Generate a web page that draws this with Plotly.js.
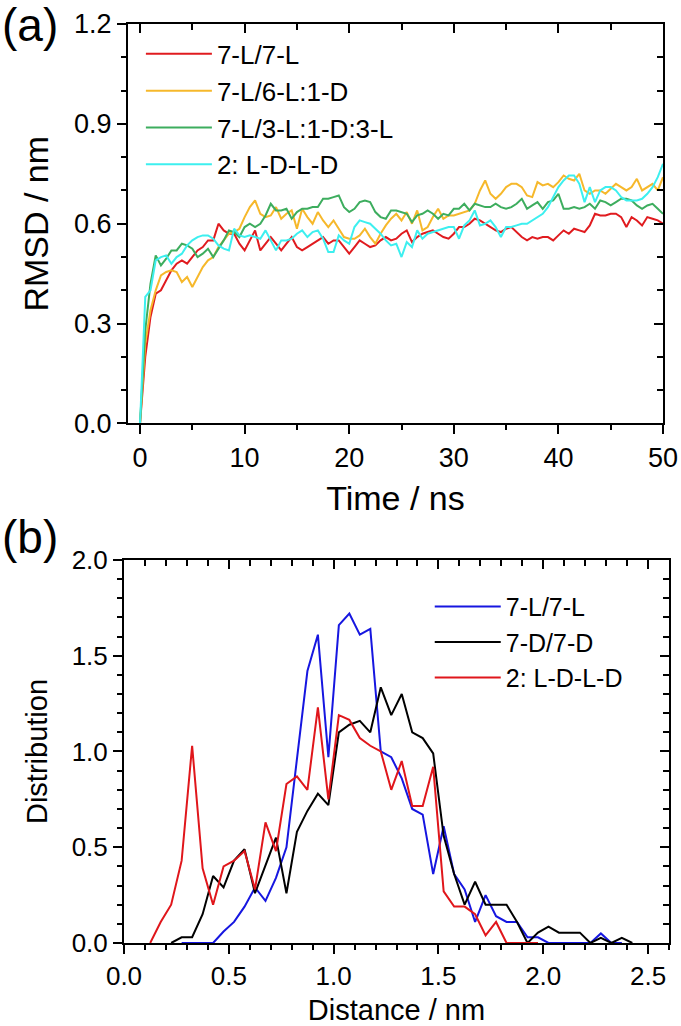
<!DOCTYPE html>
<html>
<head>
<meta charset="utf-8">
<script src="https://cdn.plot.ly/plotly-3.0.1.min.js"></script>
<style>
html,body{margin:0;padding:0;background:#fff;}
#chart{width:681px;height:1026px;}
</style>
</head>
<body>
<div id="chart"></div>
<script>
// ---------- Panel (a): RMSD vs time ----------
const timeNs = [0,0.5,1,1.5,2,2.5,3,3.5,4,4.5,5,5.5,6,6.5,7,7.5,8,8.5,9,9.5,10,10.5,11,11.5,12,12.5,13,13.5,14,14.5,15,15.5,16,16.5,17,17.5,18,18.5,19,19.5,20,20.5,21,21.5,22,22.5,23,23.5,24,24.5,25,25.5,26,26.5,27,27.5,28,28.5,29,29.5,30,30.5,31,31.5,32,32.5,33,33.5,34,34.5,35,35.5,36,36.5,37,37.5,38,38.5,39,39.5,40,40.5,41,41.5,42,42.5,43,43.5,44,44.5,45,45.5,46,46.5,47,47.5,48,48.5,49,49.5,50];

const rmsd_7L7L = [0,0.20,0.32,0.39,0.40,0.43,0.46,0.48,0.49,0.48,
0.50,0.52,0.53,0.55,0.55,0.60,0.58,0.57,0.57,0.54,
0.52,0.55,0.58,0.52,0.54,0.56,0.54,0.52,0.54,0.56,
0.53,0.52,0.53,0.54,0.55,0.56,0.54,0.55,0.55,0.53,
0.51,0.53,0.55,0.54,0.53,0.535,0.55,0.56,0.55,0.555,
0.57,0.58,0.545,0.56,0.57,0.575,0.58,0.57,0.56,0.555,
0.57,0.59,0.59,0.60,0.615,0.61,0.60,0.59,0.58,0.575,
0.585,0.59,0.575,0.56,0.55,0.56,0.555,0.56,0.56,0.55,
0.565,0.58,0.57,0.585,0.58,0.575,0.595,0.63,0.625,0.625,
0.63,0.63,0.62,0.59,0.62,0.61,0.595,0.62,0.615,0.61,
0.60];

const rmsd_7L6L1D = [0,0.24,0.34,0.40,0.445,0.455,0.46,0.455,0.425,0.44,
0.41,0.44,0.47,0.49,0.50,0.53,0.55,0.57,0.575,0.585,
0.62,0.65,0.67,0.63,0.62,0.625,0.65,0.615,0.63,0.64,
0.585,0.645,0.62,0.60,0.635,0.61,0.59,0.61,0.585,0.56,
0.555,0.555,0.565,0.585,0.56,0.54,0.57,0.595,0.615,0.63,
0.61,0.635,0.60,0.64,0.58,0.59,0.62,0.645,0.615,0.625,
0.625,0.63,0.635,0.64,0.66,0.70,0.73,0.69,0.675,0.69,
0.71,0.72,0.72,0.71,0.685,0.68,0.725,0.715,0.72,0.71,
0.725,0.745,0.735,0.73,0.75,0.70,0.69,0.70,0.70,0.69,
0.705,0.72,0.71,0.70,0.71,0.735,0.70,0.71,0.72,0.70,
0.74];

const rmsd_7L3L1D3L = [0,0.28,0.42,0.505,0.475,0.495,0.52,0.52,0.54,0.535,
0.525,0.50,0.51,0.525,0.50,0.525,0.55,0.58,0.575,0.56,
0.59,0.60,0.59,0.60,0.625,0.66,0.64,0.64,0.645,0.615,
0.635,0.645,0.645,0.65,0.65,0.675,0.675,0.68,0.685,0.65,
0.635,0.645,0.665,0.67,0.665,0.635,0.62,0.615,0.64,0.64,
0.635,0.63,0.605,0.625,0.63,0.64,0.63,0.615,0.63,0.625,
0.645,0.645,0.66,0.64,0.66,0.655,0.65,0.65,0.66,0.65,
0.645,0.65,0.66,0.675,0.645,0.655,0.665,0.645,0.665,0.67,
0.69,0.645,0.645,0.65,0.645,0.65,0.66,0.645,0.67,0.665,
0.655,0.665,0.675,0.675,0.67,0.655,0.645,0.655,0.66,0.645,
0.63];

const rmsd_LDLD = [0,0.38,0.40,0.49,0.50,0.505,0.48,0.50,0.51,0.535,
0.55,0.56,0.565,0.565,0.555,0.535,0.525,0.52,0.585,0.565,
0.56,0.565,0.56,0.555,0.58,0.55,0.52,0.55,0.55,0.555,
0.57,0.58,0.56,0.575,0.58,0.555,0.515,0.515,0.565,0.55,
0.54,0.59,0.61,0.605,0.60,0.585,0.57,0.55,0.535,0.54,
0.50,0.545,0.53,0.58,0.555,0.57,0.575,0.58,0.585,0.59,
0.59,0.555,0.595,0.61,0.64,0.595,0.60,0.61,0.59,0.56,
0.59,0.59,0.595,0.60,0.60,0.61,0.62,0.63,0.65,0.68,
0.71,0.73,0.745,0.745,0.72,0.665,0.71,0.665,0.70,0.71,
0.71,0.70,0.68,0.67,0.67,0.67,0.675,0.69,0.71,0.74,
0.78];

const namesA = ['7-L/7-L','7-L/6-L:1-D','7-L/3-L:1-D:3-L','2: L-D-L-D'];
const colorsA = ['#E01B1F','#F6B82B','#3DAD5E','#3DEFEF'];

// ---------- Panel (b): distance distribution ----------
const dist_7L7L = [0.275,0.325,0.375,0.425,0.475,0.525,0.575,0.625,0.675,0.725,0.775,0.825,0.875,0.925,0.975,1.025,1.075,1.125,1.175,1.225,1.275,1.325,1.375,1.425,1.475,1.525,1.575,1.625,1.675,1.725,1.775,1.825,1.875,1.925,1.975,2.025,2.075,2.125,2.175,2.225,2.275,2.325,2.375];
const prob_7L7L = [0,0,0,0,0.06,0.11,0.19,0.29,0.22,0.34,0.50,0.97,1.42,1.61,0.97,1.66,1.72,1.61,1.64,1.00,0.97,0.86,0.70,0.67,0.36,0.61,0.36,0.28,0.11,0.25,0.14,0.11,0.11,0.03,0.03,0,0,0,0,0,0.05,0,0];

const dist_7D7D = [0.225,0.275,0.325,0.375,0.425,0.475,0.525,0.575,0.625,0.675,0.725,0.775,0.825,0.875,0.925,0.975,1.025,1.075,1.125,1.175,1.225,1.275,1.325,1.375,1.425,1.475,1.525,1.575,1.625,1.675,1.725,1.775,1.825,1.875,1.925,1.975,2.025,2.075,2.125,2.175,2.225,2.275,2.325,2.375,2.425];
const prob_7D7D = [0,0.03,0.03,0.15,0.35,0.29,0.43,0.49,0.26,0.40,0.55,0.26,0.58,0.69,0.78,0.72,1.10,1.14,1.16,1.10,1.335,1.19,1.30,1.10,1.07,0.99,0.56,0.36,0.20,0.32,0.20,0.20,0.20,0.11,0,0.054,0.085,0.054,0.054,0.054,0,0.027,0,0.027,0];

const dist_LDLD = [0.125,0.175,0.225,0.275,0.325,0.375,0.425,0.475,0.525,0.575,0.625,0.675,0.725,0.775,0.825,0.875,0.925,0.975,1.025,1.075,1.125,1.175,1.225,1.275,1.325,1.375,1.425,1.475,1.525,1.575,1.625,1.675,1.725,1.775,1.825,1.875,1.925,1.975];
const prob_LDLD = [0,0.11,0.20,0.43,1.03,0.39,0.20,0.40,0.43,0.48,0.28,0.63,0.48,0.83,0.87,0.80,1.23,0.75,1.19,1.165,1.07,1.03,1.00,0.80,0.95,0.715,0.715,0.92,0.27,0.19,0.19,0.15,0.04,0.11,0,0,0,0];

const namesB = ['7-L/7-L','7-D/7-D','2: L-D-L-D'];
const colorsB = ['#1616E0','#000000','#E0161B'];

// ---------- traces ----------
const seriesA = [rmsd_7L7L, rmsd_7L6L1D, rmsd_7L3L1D3L, rmsd_LDLD];
const traces = [];
seriesA.forEach((ys,i)=>{
  traces.push({x:timeNs, y:ys, type:'scatter', mode:'lines', name:namesA[i],
    line:{color:colorsA[i], width:2}, xaxis:'x', yaxis:'y', legend:'legend', hoverinfo:'x+y'});
});
const seriesB = [[dist_7L7L,prob_7L7L],[dist_7D7D,prob_7D7D],[dist_LDLD,prob_LDLD]];
seriesB.forEach((s,i)=>{
  traces.push({x:s[0], y:s[1], type:'scatter', mode:'lines', name:namesB[i],
    line:{color:colorsB[i], width:2}, xaxis:'x2', yaxis:'y2', legend:'legend2', hoverinfo:'x+y'});
});
// empty helper traces so the mirrored inner-tick axes are drawn
[['x3','y'],['x','y3'],['x4','y2'],['x2','y4']].forEach(p=>{
  traces.push({x:[], y:[], type:'scatter', mode:'lines', xaxis:p[0], yaxis:p[1], showlegend:false, hoverinfo:'skip'});
});

const FONT = 'Arial, "Liberation Sans", sans-serif';
const base = {showgrid:false, zeroline:false, linecolor:'#000', linewidth:2, tickcolor:'#000',
  tickwidth:2, automargin:false, fixedrange:true};

const rangeXA=[-1.15,50], rangeYA=[0,1.2], rangeXB=[0,2.6], rangeYB=[0,2.0];

const layout = {
  width:681, height:1026,
  margin:{l:124, r:12, t:24, b:83, pad:0},
  paper_bgcolor:'#fff', plot_bgcolor:'rgba(0,0,0,0)',
  font:{family:FONT, color:'#000'},
  showlegend:true,
  xaxis: Object.assign({}, base, {domain:[0.00734,0.98899], anchor:'y', range:rangeXA,
    tick0:0, dtick:10, ticks:'outside', ticklen:9, mirror:true,
    minor:{dtick:5, tick0:0, ticks:'outside', ticklen:5, tickwidth:2, tickcolor:'#000'},
    tickfont:{size:27, family:FONT},
    title:{text:'Time / ns', font:{size:34, family:FONT}, standoff:14}}),
  yaxis: Object.assign({}, base, {domain:[0.5653,1], anchor:'x', range:rangeYA,
    tick0:0, dtick:0.3, tickformat:'.1f', ticks:'outside', ticklen:9, mirror:true,
    minor:{dtick:0.1, tick0:0, ticks:'outside', ticklen:5, tickwidth:2, tickcolor:'#000'},
    tickfont:{size:27, family:FONT},
    title:{text:'RMSD / nm', font:{size:34, family:FONT}, standoff:15}}),
  xaxis3: Object.assign({}, base, {overlaying:'x', anchor:'y', side:'top', range:rangeXA,
    tick0:0, dtick:10, ticks:'inside', ticklen:9, showline:false, showticklabels:false,
    minor:{dtick:5, tick0:0, ticks:'inside', ticklen:6, tickwidth:2, tickcolor:'#000'}}),
  yaxis3: Object.assign({}, base, {overlaying:'y', anchor:'x', side:'right', range:rangeYA,
    tick0:0, dtick:0.3, ticks:'inside', ticklen:9, showline:false, showticklabels:false,
    minor:{dtick:0.1, tick0:0, ticks:'inside', ticklen:6, tickwidth:2, tickcolor:'#000'}}),
  xaxis2: Object.assign({}, base, {domain:[0,1], anchor:'y2', range:rangeXB,
    tick0:0, dtick:0.5, tickformat:'.1f', ticks:'outside', ticklen:9, mirror:true,
    minor:{dtick:0.1, tick0:0, ticks:'outside', ticklen:5, tickwidth:2, tickcolor:'#000'},
    tickfont:{size:26, family:FONT},
    title:{text:'Distance / nm', font:{size:29, family:FONT}, standoff:14}}),
  yaxis2: Object.assign({}, base, {domain:[0,0.41676], anchor:'x2', range:rangeYB,
    tick0:0, dtick:0.5, tickformat:'.1f', ticks:'outside', ticklen:9, mirror:true,
    minor:{dtick:0.1, tick0:0, ticks:'outside', ticklen:5, tickwidth:2, tickcolor:'#000'},
    tickfont:{size:26, family:FONT},
    title:{text:'Distribution', font:{size:29, family:FONT}, standoff:15}}),
  xaxis4: Object.assign({}, base, {overlaying:'x2', anchor:'y2', side:'top', range:rangeXB,
    tick0:0, dtick:0.5, ticks:'inside', ticklen:9, showline:false, showticklabels:false,
    minor:{dtick:0.1, tick0:0, ticks:'inside', ticklen:6, tickwidth:2, tickcolor:'#000'}}),
  yaxis4: Object.assign({}, base, {overlaying:'y2', anchor:'x2', side:'right', range:rangeYB,
    tick0:0, dtick:0.5, ticks:'inside', ticklen:9, showline:false, showticklabels:false,
    minor:{dtick:0.1, tick0:0, ticks:'inside', ticklen:6, tickwidth:2, tickcolor:'#000'}}),
  legend:{x:0.031, y:0.993, xanchor:'left', yanchor:'top', bgcolor:'rgba(0,0,0,0)',
    font:{size:26, family:FONT}, itemwidth:66, tracegroupgap:0},
  legend2:{x:0.561, y:0.391, xanchor:'left', yanchor:'top', bgcolor:'rgba(0,0,0,0)',
    font:{size:25, family:FONT}, itemwidth:66, tracegroupgap:0},
  annotations:[
    {text:'(a)', xref:'paper', yref:'paper', x:-0.2275, y:1.0295, xanchor:'left', yanchor:'top',
     showarrow:false, font:{size:46, family:FONT}},
    {text:'(b)', xref:'paper', yref:'paper', x:-0.2275, y:0.4722, xanchor:'left', yanchor:'top',
     showarrow:false, font:{size:46, family:FONT}}
  ]
};

Plotly.newPlot('chart', traces, layout, {displayModeBar:false, staticPlot:true});
</script>
</body>
</html>
